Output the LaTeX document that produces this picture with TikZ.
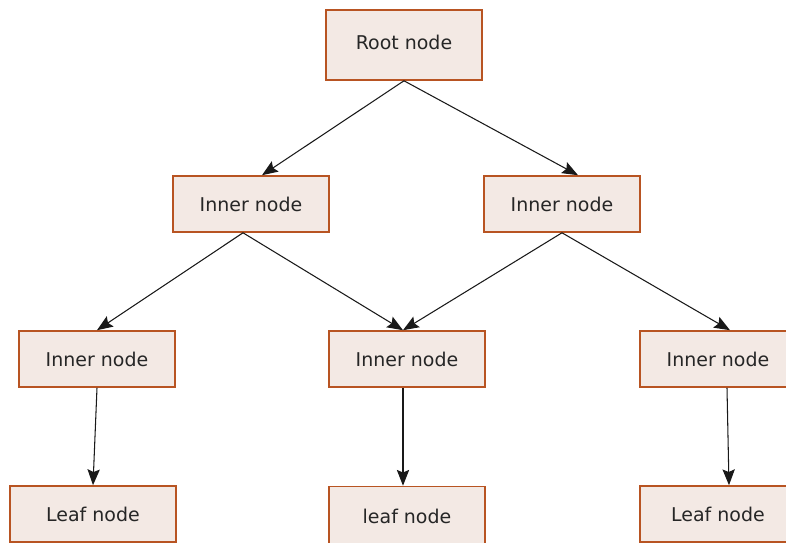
\documentclass[tikz,border=0pt]{standalone}
\usepackage{fontspec}
\setmainfont{DejaVu Sans}
\usetikzlibrary{arrows.meta, positioning}
\definecolor{boxfill}{RGB}{243,233,228}
\definecolor{boxline}{RGB}{184,84,34}

\tikzset{
  treebox/.style={rectangle, draw=boxline, fill=boxfill, line width=0.9pt,
    minimum width=3.12cm, minimum height=1.12cm, text=black!85,
    font=\fontsize{10.8}{13}\selectfont},
  link/.style={->, line width=0.6pt, black!90}
}

\begin{document}
\begin{tikzpicture}[>={Stealth[length=9pt,width=7pt,inset=1.5pt]}, node distance=3.1cm]
        \useasboundingbox (0,0) rectangle (15.72,-10.86);

        \node[treebox, minimum height=1.4cm] (root) at (8.08,-0.9) {\raisebox{0.1cm}{Root node}};

        % inner nodes
        \node[treebox, below of=root, xshift=-3.06cm, yshift=-0.08cm] (innerL) {Inner node};
        \node[treebox, below of=root, xshift=3.16cm, yshift=-0.08cm] (innerR) {Inner node};

        \node[treebox, below of=innerL, xshift=-3.08cm] (midL) {Inner node};
        \node[treebox, below of=innerL, xshift=3.12cm] (midM) {Inner node};
        \node[treebox, below of=innerR, xshift=3.12cm] (midR) {Inner node};

        % leaf nodes
        \node[treebox, below of=midL, xshift=-0.08cm, minimum width=3.32cm] (leafL) {Leaf node};
        \node[treebox, below of=midM, yshift=-0.1cm, minimum height=1.3cm] (leafM) {\raisebox{0.12cm}{leaf node}};
        \node[treebox, below of=midR] (leafR) {Leaf node};

        % Draw arrows
        \draw[link] (root.south) -- ([xshift=0.22cm]innerL.north);
        \draw[link] (root.south) -- ([xshift=0.32cm]innerR.north);

        \draw[link] ([xshift=-0.16cm]innerL.south) -- (midL.north);
        \draw[link] ([xshift=-0.16cm]innerL.south) -- ([xshift=-0.08cm]midM.north);
        \draw[link] (innerR.south) -- ([xshift=-0.08cm]midM.north);
        \draw[link] (innerR.south) -- ([xshift=0.24cm]midR.north);

        \draw[link] (midL.south) -- (leafL.north);
        \draw[link] ([xshift=-0.08cm]midM.south) -- ([xshift=-0.08cm]leafM.north);
        \draw[link] ([xshift=0.18cm]midR.south) -- ([xshift=0.22cm]leafR.north);
\end{tikzpicture}
\end{document}
